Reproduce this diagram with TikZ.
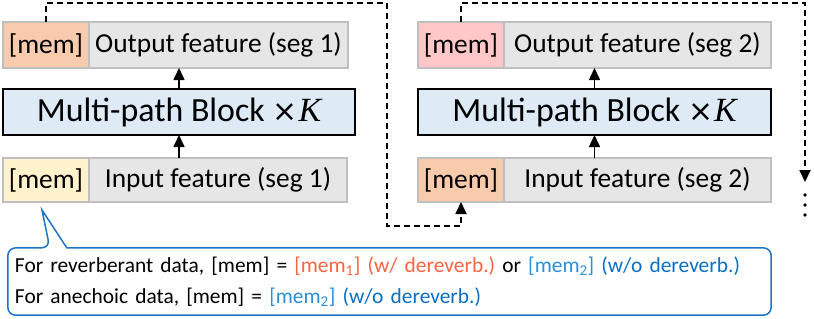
\documentclass[tikz,border=0pt]{standalone}
\usepackage{fontspec}
\setmainfont{Carlito}
\newfontfamily\kfont{Liberation Serif}
\newfontfamily\symfont{DejaVu Sans}
\frenchspacing
\definecolor{memorange}{RGB}{248,203,173}
\definecolor{memyellow}{RGB}{255,242,204}
\definecolor{mempink}{RGB}{255,199,199}
\definecolor{featgray}{RGB}{231,230,230}
\definecolor{cellgray}{RGB}{191,191,191}
\definecolor{blockblue}{RGB}{222,235,247}
\definecolor{noteblue}{RGB}{30,116,197}
\definecolor{memtxtorange}{RGB}{250,100,64}
\definecolor{memtxtblue}{RGB}{40,143,221}
\definecolor{woblue}{RGB}{10,111,194}
\usetikzlibrary{arrows.meta,positioning,calc}
\newcommand{\timesK}{{\symfont\fontsize{30}{34}\selectfont ×}\kern1bp{\kfont\itshape K}}

\begin{document}
\begin{tikzpicture}[x=1bp, y=-1bp,
  cell/.style={draw=cellgray, line width=1.5bp, outer sep=0pt, inner sep=0pt,
    minimum height=46bp, font=\fontsize{27.5}{30}\selectfont},
  memcell/.style={cell, minimum width=86bp},
  featcell/.style={cell, fill=featgray},
  blockbox/.style={draw=black, line width=2bp, fill=blockblue, outer sep=0pt,
    inner sep=0pt, minimum height=46bp, font=\fontsize{34}{38}\selectfont},
  arr/.style={-{Triangle[length=12bp,width=11bp]}, line width=1.6bp},
  dasharr/.style={dash pattern=on 6bp off 4bp, line width=1.8bp,
    -{Triangle[length=12bp,width=11bp]}},
  noteline/.style={draw=noteblue, line width=1.5bp},
]
\useasboundingbox (0,0) rectangle (814,318);

% Segment 1
\node[memcell, fill=memorange] (out1mem) at (46,45) {[mem]};
\node[featcell, minimum width=259bp, right=0pt of out1mem] (out1feat) {Output feature (seg 1)};
\node[blockbox, minimum width=352bp, anchor=north west] (blk1) at (3,89) {Multi-path Block \timesK};
\node[memcell, fill=memyellow, minimum height=44bp] (in1mem) at (46,180) {[mem]};
\node[featcell, minimum height=44bp, minimum width=258bp, right=0pt of in1mem] (in1feat) {Input feature (seg 1)};

\draw[arr] (in1feat.north -| blk1) -- (blk1.south);
\draw[arr] (blk1.north) -- (blk1.north |- out1feat.south);

% Segment 2
\node[memcell, fill=mempink] (out2mem) at (461,45) {[mem]};
\node[featcell, minimum width=267bp, right=0pt of out2mem] (out2feat) {Output feature (seg 2)};
\node[blockbox, minimum width=353bp, anchor=north west] (blk2) at (418,89) {Multi-path Block \timesK};
\node[memcell, fill=memorange, minimum height=44bp] (in2mem) at (461,180) {[mem]};
\node[featcell, minimum height=44bp, minimum width=267bp, right=0pt of in2mem] (in2feat) {Input feature (seg 2)};

\draw[arr] (in2feat.north -| blk2) -- (blk2.south);
\draw[arr] (blk2.north) -- (blk2.north |- out2feat.south);

% Memory passing
\coordinate (top1) at (387,3);
\coordinate (low1) at (387,226);
\coordinate (top2) at (805,3);
\coordinate (end2) at (805,182);
\draw[dasharr] (out1mem.north) |- (top1) -- (low1) -| (in2mem.south);
\draw[dasharr] (out2mem.north) |- (top2) -- (end2);
\foreach \y in {195,205,215}
  \fill (805,\y) circle (1.8bp);

% Note
\node[minimum width=763bp, minimum height=67bp, text width=749bp, inner sep=7bp,
  align=left, font=\fontsize{21.5}{31}\selectfont] (note) at (389.5,281.5)
  {For reverberant data, [mem] = \textcolor{memtxtorange}{[mem\textsubscript{1}] (w/ dereverb.)} or
   \textcolor{memtxtblue}{[mem\textsubscript{2}]} \textcolor{woblue}{(w/o dereverb.)}\\
   For anechoic data, [mem] = \textcolor{memtxtblue}{[mem\textsubscript{2}]} \textcolor{woblue}{(w/o dereverb.)}};
\coordinate (tip) at (42,210);
\draw[noteline, rounded corners=8bp] ([xshift=59bp]note.north west) -- (note.north east)
  -- (note.south east) -- (note.south west) -- (note.north west)
  -- ([xshift=42bp]note.north west) [sharp corners] -- (tip) -- cycle;
\end{tikzpicture}
\end{document}
